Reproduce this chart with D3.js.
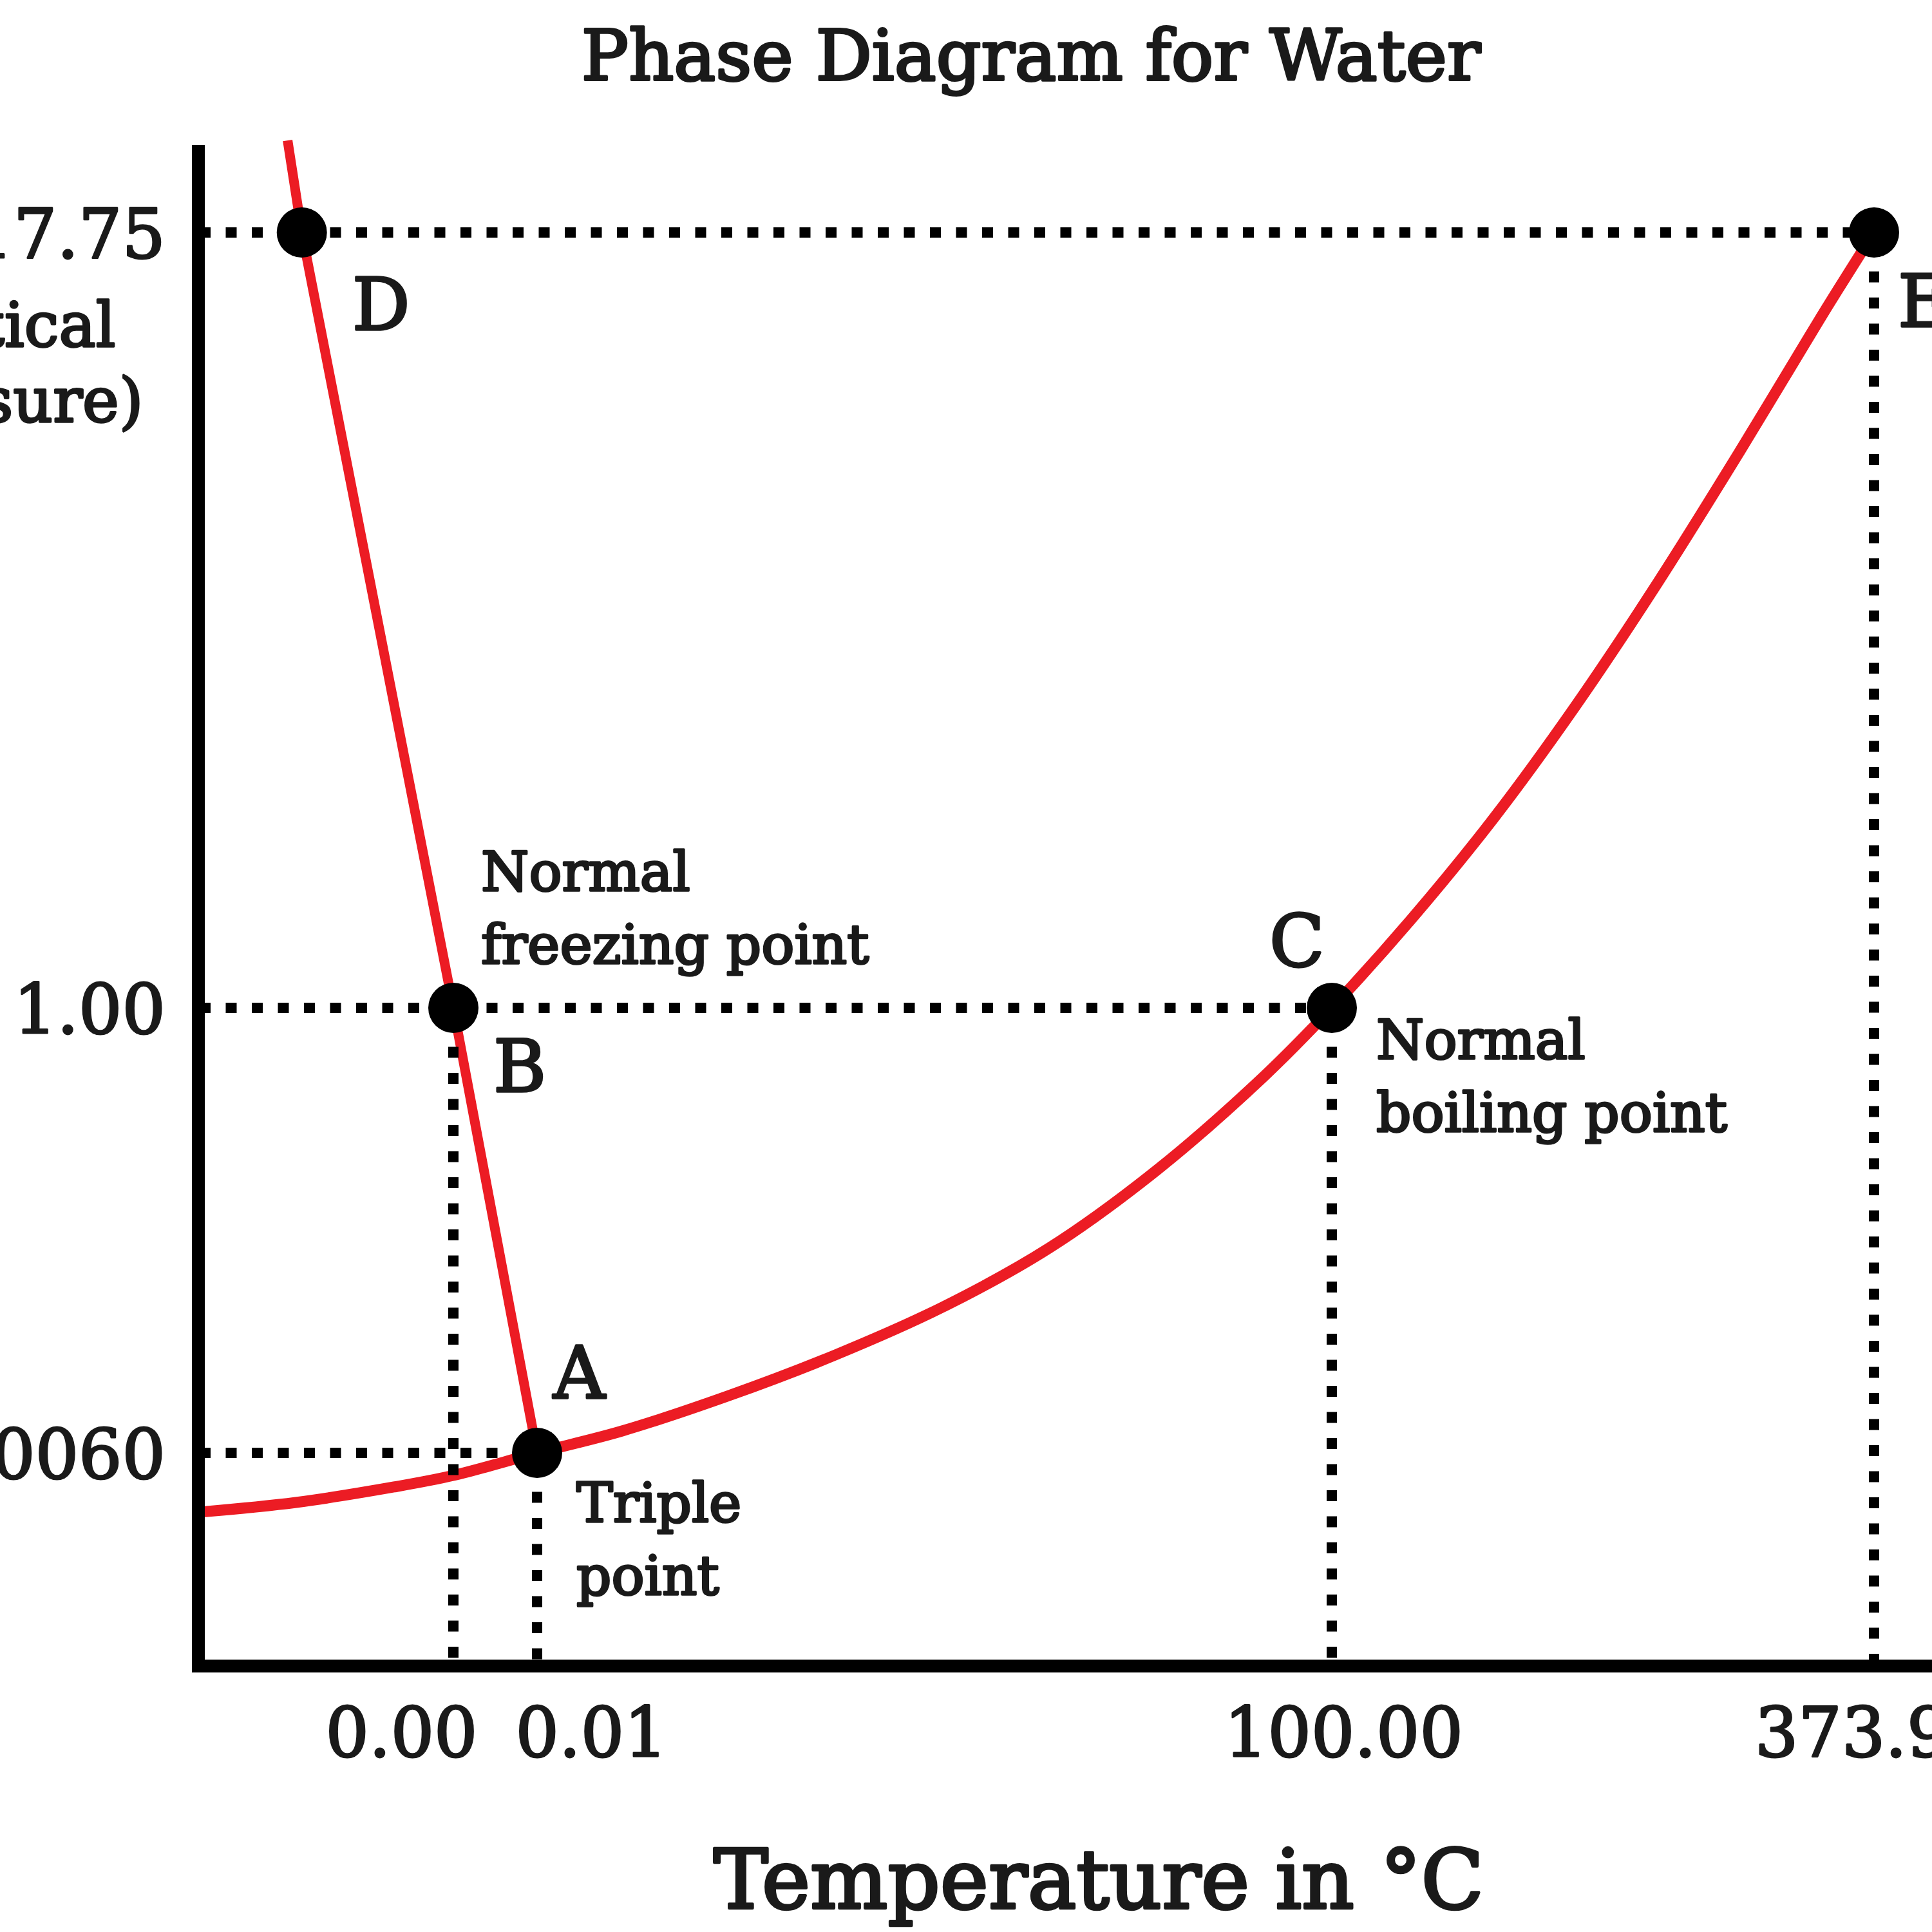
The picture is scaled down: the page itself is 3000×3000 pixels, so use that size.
<!DOCTYPE html>
<html>
<head>
<meta charset="utf-8">
<script src="https://cdn.jsdelivr.net/npm/d3@7"></script>
<style>
  html, body { margin: 0; padding: 0; background: #fff; }
  svg { display: block; }
  text { font-family: "DejaVu Serif", serif; fill: #1a1a1a; stroke: #1a1a1a; stroke-linejoin: round; }
</style>
</head>
<body>
<script>
// ---------- data ----------
const xTickValues = [0.00, 0.01, 100.00, 373.95];
const xTickLabels = ["0.00", "0.01", "100.00", "373.95"];
const yTickValues = [0.006, 1.00, 217.75];
const yTickLabels = ["0.0060", "1.00", "217.75"];

const pointNames = ["A", "B", "C", "D", "E"];
const pointTemps = [0.01, 0.00, 100.00, -0.0181, 373.95];
const pointPressures = [0.006, 1.00, 1.00, 217.75, 217.75];

// solid/liquid boundary
const meltTemps = [-0.0198, -0.0181, 0.00, 0.01];
const meltPressures = [412.6, 217.75, 1.00, 0.006];

// solid/gas + liquid/gas boundary
const vapTemps = [-0.0303, -0.0188, -0.0071, 0.00, 0.01, 10.71, 24.16, 37.53, 50.98, 64.43, 77.88, 91.33, 100.00, 140.0, 181.7, 223.0, 264.6, 306.3, 347.6, 373.95];
const vapPressures = [0.003036, 0.003393, 0.004053, 0.004628, 0.006, 0.007718, 0.011594, 0.018487, 0.031975, 0.063182, 0.15365, 0.44956, 1.00, 1.845, 3.723, 8.11, 19.12, 47.83, 122.3, 217.75];

// dotted guides: horizontal from axis to point, vertical from point to axis
const hGuideNames = ["A", "C", "E"];
const vGuideNames = ["A", "B", "C", "E"];

const pointNotes = {
  B: ["Normal", "freezing point"],
  C: ["Normal", "boiling point"],
  A: ["Triple", "point"]
};
const leftNote = ["(critical", "pressure)"];
const titleText = "Phase Diagram for Water";
const xTitle = "Temperature in °C";

// ---------- layout ----------
const W = 3000, H = 3000;
const axisLeft = 308, axisBottom = 2587, axisTop = 225, axisRight = 3000;
const RED = "#ec1c24";

const svg = d3.select("body").append("svg")
  .attr("width", W).attr("height", H)
  .attr("viewBox", `0 0 ${W} ${H}`);
svg.append("rect").attr("width", W).attr("height", H).attr("fill", "#fff");

// schematic (piecewise) scales
const x = d3.scaleLinear().domain(xTickValues).range([704, 834, 2068, 2910]);
const y = d3.scaleLog().domain(yTickValues).range([2256, 1565, 361]);

const pts = pointNames.map((n, i) => ({ name: n, t: pointTemps[i], p: pointPressures[i] }));
const byName = Object.fromEntries(pts.map(d => [d.name, d]));

// ---------- red boundary curves ----------
const melt = meltTemps.map((t, i) => ({ t, p: meltPressures[i] }));
const vap = vapTemps.map((t, i) => ({ t, p: vapPressures[i] }));

svg.append("path")
  .datum(vap)
  .attr("d", d3.line().x(d => x(d.t)).y(d => y(d.p)).curve(d3.curveCatmullRom.alpha(0.5)))
  .attr("fill", "none").attr("stroke", RED).attr("stroke-width", 17);

svg.append("path")
  .datum(melt)
  .attr("d", d3.line().x(d => x(d.t)).y(d => y(d.p)))
  .attr("fill", "none").attr("stroke", RED).attr("stroke-width", 15);

// ---------- dotted guides ----------
const dotted = svg.append("g")
  .attr("stroke", "#000").attr("stroke-width", 16)
  .attr("stroke-dasharray", "17 23.5").attr("fill", "none");

dotted.selectAll("line.h").data(hGuideNames.map(n => byName[n])).join("line")
  .attr("class", "h")
  .attr("x1", axisLeft + 2).attr("x2", d => x(d.t))
  .attr("y1", d => y(d.p)).attr("y2", d => y(d.p));

dotted.selectAll("line.v").data(vGuideNames.map(n => byName[n])).join("line")
  .attr("class", "v")
  .attr("x1", d => x(d.t)).attr("x2", d => x(d.t))
  .attr("y1", d => y(d.p) + 20).attr("y2", axisBottom - 8);

// ---------- axes ----------
svg.append("line")
  .attr("x1", axisLeft).attr("x2", axisLeft)
  .attr("y1", axisTop).attr("y2", axisBottom + 10)
  .attr("stroke", "#000").attr("stroke-width", 20);
svg.append("line")
  .attr("x1", axisLeft - 10).attr("x2", axisRight)
  .attr("y1", axisBottom).attr("y2", axisBottom)
  .attr("stroke", "#000").attr("stroke-width", 20);

// x tick labels via d3 axis (no domain, no ticks)
const xLabelShift = [-81, 84, 18, 0];
const gx = svg.append("g")
  .attr("transform", `translate(0,${axisBottom})`)
  .call(d3.axisBottom(x).tickValues(xTickValues).tickSize(0).tickPadding(0)
    .tickFormat((d, i) => xTickLabels[i]));
gx.select(".domain").remove();
gx.selectAll(".tick text")
  .attr("font-family", "DejaVu Serif").attr("font-size", 106)
  .attr("fill", "#1a1a1a").attr("stroke", "#1a1a1a").attr("stroke-width", 3)
  .attr("y", 140).attr("dy", 0)
  .attr("dx", (d, i) => xLabelShift[i]);

// y tick labels via d3 axis
const gy = svg.append("g")
  .attr("transform", `translate(${axisLeft},0)`)
  .call(d3.axisLeft(y).tickValues(yTickValues).tickSize(0).tickPadding(51)
    .tickFormat((d, i) => yTickLabels[i]));
gy.select(".domain").remove();
gy.selectAll(".tick text")
  .attr("font-family", "DejaVu Serif").attr("font-size", 106)
  .attr("fill", "#1a1a1a").attr("stroke", "#1a1a1a").attr("stroke-width", 3)
  .attr("dy", "0.36em");

// left (critical pressure) note
svg.append("g").selectAll("text").data(leftNote).join("text")
  .attr("x", -10).attr("y", (d, i) => y(217.75) + 177 + i * 117)
  .attr("text-anchor", "middle").attr("font-size", 96).attr("stroke-width", 3.5)
  .text(d => d);

// ---------- key points ----------
svg.append("g").selectAll("circle").data(pts).join("circle")
  .attr("cx", d => x(d.t)).attr("cy", d => y(d.p)).attr("r", 39)
  .attr("fill", "#000");

// point letters
const letterOffset = { A: [25, -85], B: [62, 130], C: [-97, -65], D: [78, 151], E: [37, 146] };
svg.append("g").selectAll("text").data(pts).join("text")
  .attr("x", d => x(d.t) + letterOffset[d.name][0])
  .attr("y", d => y(d.p) + letterOffset[d.name][1])
  .attr("font-size", 112).attr("stroke-width", 3.5)
  .text(d => d.name);

// point notes
const noteOffset = { B: [43, -182], C: [69, 79], A: [61, 107] };
Object.keys(pointNotes).forEach(n => {
  const d = byName[n];
  svg.append("g").selectAll("text").data(pointNotes[n]).join("text")
    .attr("x", x(d.t) + noteOffset[n][0])
    .attr("y", (s, i) => y(d.p) + noteOffset[n][1] + i * 113)
    .attr("font-size", 85).attr("stroke-width", 3.5)
    .text(s => s);
});

// ---------- titles ----------
svg.append("text")
  .attr("x", 1601).attr("y", 124).attr("text-anchor", "middle")
  .attr("font-size", 109).attr("stroke-width", 4)
  .text(titleText);

svg.append("text")
  .attr("x", 1706).attr("y", 2963).attr("text-anchor", "middle")
  .attr("font-size", 127).attr("stroke-width", 4.5)
  .text(xTitle);
</script>
</body>
</html>
